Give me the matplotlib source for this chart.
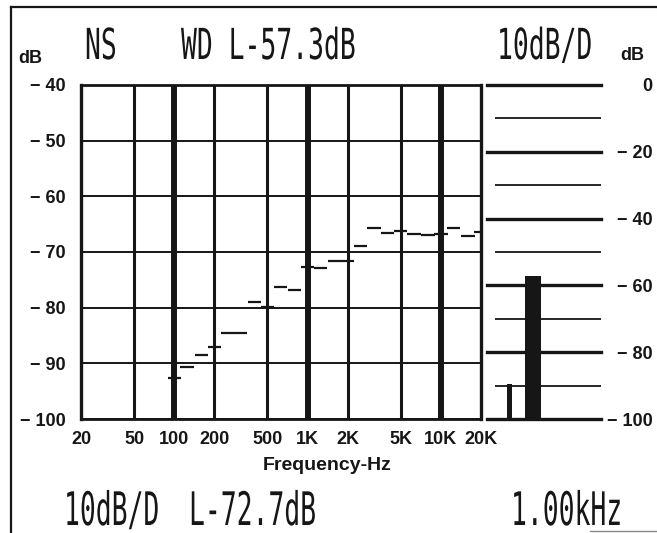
import numpy as np
import matplotlib
matplotlib.use('Agg')
import matplotlib.pyplot as plt
from matplotlib.lines import Line2D
from matplotlib.ticker import NullLocator
from matplotlib.patheffects import AbstractPathEffect
from matplotlib.transforms import Affine2D

# analyser readouts
top_readouts = ['NS', 'WD L-57.3dB', '10dB/D']
bottom_readouts = ['10dB/D', 'L-72.7dB', '1.00kHz']

# spectrum axis
freq_ticks = [20, 50, 100, 200, 500, 1000, 2000, 5000, 10000, 20000]
freq_labels = ['20', '50', '100', '200', '500', '1K', '2K', '5K', '10K', '20K']
heavy_freqs = [100, 1000, 10000]
level_ticks = [-40, -50, -60, -70, -80, -90, -100]
level_labels = ['\u2212 40', '\u2212 50', '\u2212 60', '\u2212 70', '\u2212 80', '\u2212 90', '\u2212 100']

# 1/3 octave bands (centre Hz) and levels (dB)
band_centers = [100, 125, 160, 200, 250, 315, 400, 500, 630, 800, 1000, 1250,
                1600, 2000, 2500, 3150, 4000, 5000, 6300, 8000, 10000, 12500, 16000, 20000]
band_levels = [-92.7, -90.7, -88.5, -87.0, -84.5, -84.5, -78.9, -79.8, -76.2, -76.8, -72.7, -72.9,
               -71.6, -71.6, -69.0, -65.7, -66.6, -66.3, -66.8, -66.9, -66.7, -65.7, -67.1, -66.4]

# level meter on the right
meter_ticks = [0, -20, -40, -60, -80, -100]
meter_labels = ['0', '\u2212 20', '\u2212 40', '\u2212 60', '\u2212 80', '\u2212 100']
meter_minor = [-10, -30, -50, -70, -90]
bar_levels = [-89.5, -57.3]

W, H = 657, 533
ink = '#161616'
plt.rcParams['font.family'] = ['Liberation Sans', 'DejaVu Sans']


def fx(px):
    return px / W


def fy(py):
    return 1 - py / H


class Tall(AbstractPathEffect):
    # stretch glyphs upward from the baseline, like the tall narrow LCD font
    def __init__(self, y0, sy):
        super().__init__()
        self.y0 = y0
        self.sy = sy

    def draw_path(self, renderer, gc, tpath, affine, rgbFace=None):
        t = affine + Affine2D().translate(0, -self.y0).scale(1, self.sy).translate(0, self.y0)
        renderer.draw_path(gc, tpath, t, rgbFace)


def lcd(px, py, s, sy):
    fig.text(fx(px), fy(py), s, family='DejaVu Sans Mono', fontsize=19, color=ink,
             va='baseline', ha='left', path_effects=[Tall(H - py, sy)])


fig = plt.figure(figsize=(W / 100, H / 100), dpi=100)

# main spectrum panel
ax = fig.add_axes([fx(81), fy(419), fx(481) - fx(81), (419 - 85) / H])
ax.set_xscale('log')
ax.set_xlim(20, 20000)
ax.set_ylim(-100, -40)
ax.set_xticks(freq_ticks, freq_labels)
ax.xaxis.set_minor_locator(NullLocator())
ax.set_yticks(level_ticks, level_labels)
ax.tick_params(length=0, labelsize=13, colors=ink)
ax.tick_params(axis='x', pad=9)
ax.tick_params(axis='y', pad=11)
for lab in ax.get_xticklabels() + ax.get_yticklabels():
    lab.set_fontweight('bold')
ax.yaxis.grid(True, color=ink, lw=1.4)
for f in freq_ticks[1:-1]:
    ax.axvline(f, color=ink, lw=4.3 if f in heavy_freqs else 2.2)
for s in ax.spines.values():
    s.set_color(ink)
    s.set_linewidth(2.0)
ax.spines['left'].set_linewidth(2.4)
ax.spines['right'].set_linewidth(2.4)

centers = np.array(band_centers, dtype=float)
ax.hlines(band_levels, centers / 10 ** 0.05, centers * 10 ** 0.05, color=ink, lw=1.6)
ax.set_xlabel('Frequency-Hz', fontsize=14, fontweight='bold', color=ink)
ax.xaxis.set_label_coords(0.615, -0.115)

# level meter panel
ax2 = fig.add_axes([fx(487), fy(419), fx(601) - fx(487), (419 - 85) / H])
ax2.set_xlim(0, 1)
ax2.set_ylim(-100, 0)
for s in ax2.spines.values():
    s.set_visible(False)
ax2.set_xticks([])
ax2.yaxis.tick_right()
ax2.set_yticks(meter_ticks, meter_labels)
ax2.tick_params(length=0, labelsize=13, colors=ink, pad=37)
for lab in ax2.get_yticklabels():
    lab.set_fontweight('bold')
    lab.set_horizontalalignment('right')
for v in meter_ticks:
    ax2.axhline(v, color=ink, lw=2.4, clip_on=False)
ax2.hlines(meter_minor, 0.07, 1.0, color=ink, lw=1.3)
ax2.bar([0.197, 0.404], np.array(bar_levels) + 100, bottom=-100,
        width=[0.044, 0.14], color=ink)

# unit labels
fig.text(fx(18), fy(63), 'dB', fontsize=13, fontweight='bold', color=ink, va='baseline')
fig.text(fx(620), fy(60), 'dB', fontsize=13, fontweight='bold', color=ink, va='baseline')

# LCD readouts
for px, s in zip([85, 181, 497], top_readouts):
    lcd(px, 59, s, 1.62)
for px, s in zip([64, 189, 511], bottom_readouts):
    lcd(px, 525, s, 1.75)

# scan frame
fig.add_artist(Line2D([fx(11), fx(11)], [0, fy(7)], color=ink, lw=1.6))
fig.add_artist(Line2D([fx(11), 1], [fy(7), fy(7)], color=ink, lw=1.6))
fig.add_artist(Line2D([fx(590), 1], [fy(531), fy(531)], color='#888888', lw=1.0))

fig.savefig('out.png', dpi=100)
